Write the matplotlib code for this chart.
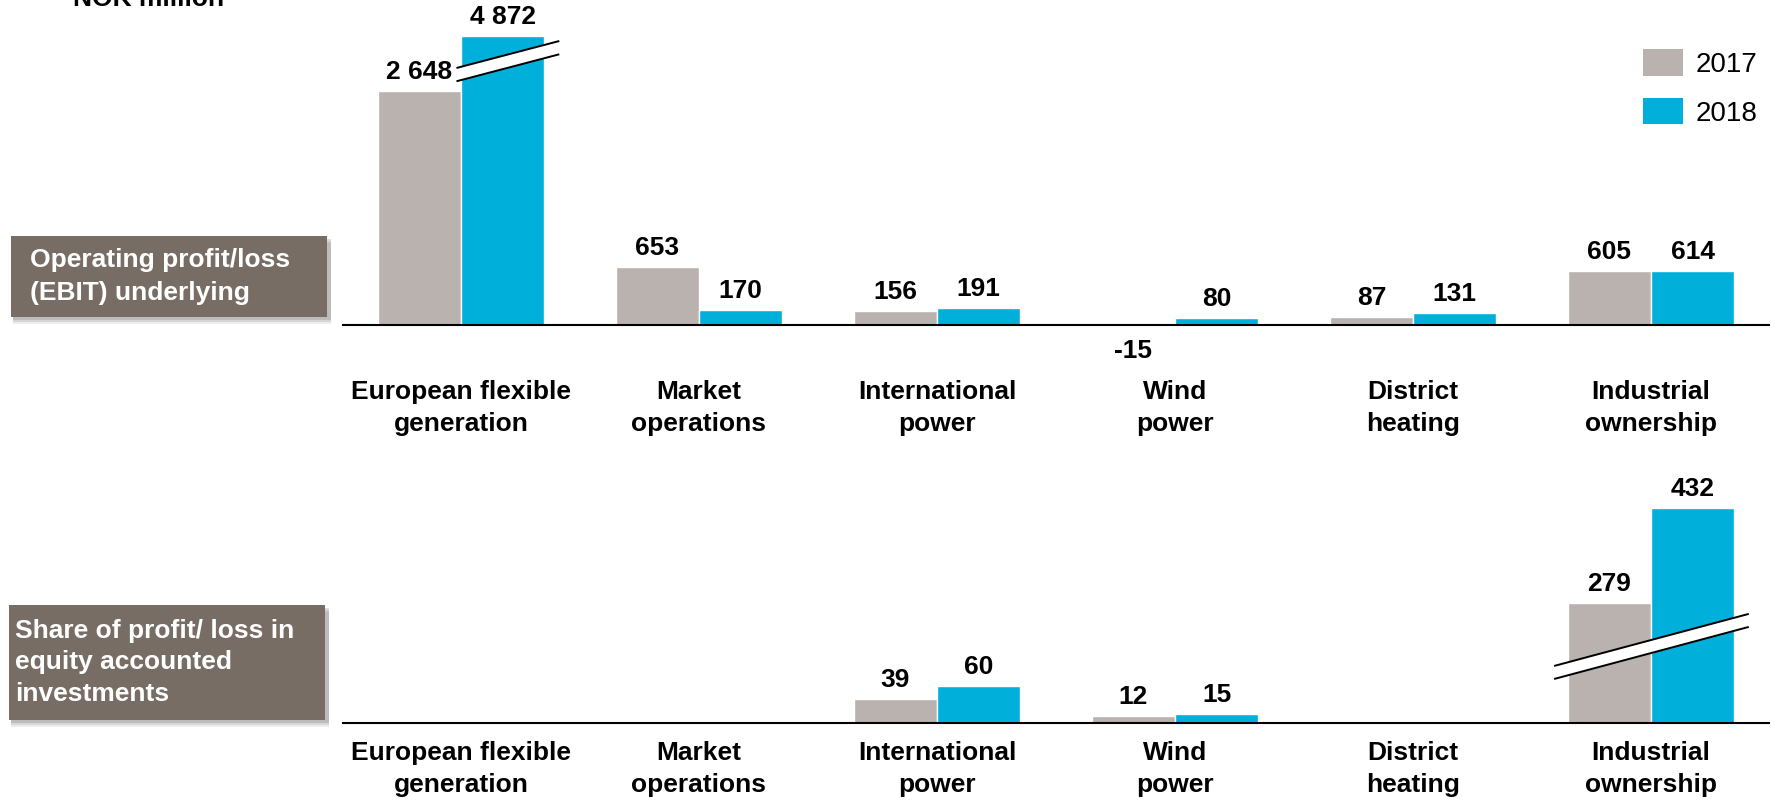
import numpy as np
import matplotlib.pyplot as plt
from matplotlib.patches import Patch, Rectangle, Polygon

plt.rcParams['font.family'] = ['Liberation Sans', 'DejaVu Sans']

# data (NOK million)
segments = ['European flexible\ngeneration', 'Market\noperations', 'International\npower',
            'Wind\npower', 'District\nheating', 'Industrial\nownership']
years = ['2017', '2018']
ebit_2017 = [2648, 653, 156, -15, 87, 605]
ebit_2018 = [4872, 170, 191, 80, 131, 614]
equity_2017 = [np.nan, np.nan, 39, 12, np.nan, 279]
equity_2018 = [np.nan, np.nan, 60, 15, np.nan, 432]

c17 = '#BAB2AE'
c18 = '#00B0DA'
box_col = '#776D64'

W, H = 1779, 801
fig = plt.figure(figsize=(W / 100, H / 100), dpi=100)


def add_axes_px(top_px, bottom_px, left_px=342, right_px=1770):
    return fig.add_axes([left_px / W, 1 - bottom_px / H,
                         (right_px - left_px) / W, (bottom_px - top_px) / H])


def fmt(v):
    return f'{int(v):,}'.replace(',', ' ')


def draw_break(ax, x0, x1, y0, y1, gap):
    poly = Polygon([(x0, y0), (x1, y1), (x1, y1 - gap), (x0, y0 - gap)],
                   closed=True, facecolor='white', edgecolor='none', zorder=5)
    ax.add_patch(poly)
    ax.plot([x0, x1], [y0, y1], color='black', lw=1.4, zorder=6, solid_capstyle='butt')
    ax.plot([x0, x1], [y0 - gap, y1 - gap], color='black', lw=1.4, zorder=6,
            solid_capstyle='butt')


def bar_panel(ax, v17, v18, disp17, disp18, label_off):
    x = np.arange(len(segments))
    w, off = 0.35, 0.175
    ax.bar(x - off, disp17, w, color=c17, edgecolor='white', lw=1, zorder=2)
    ax.bar(x + off, disp18, w, color=c18, edgecolor='white', lw=1, zorder=2)
    for xs, vals, disp in [(x - off, v17, disp17), (x + off, v18, disp18)]:
        for xi, v, d in zip(xs, vals, disp):
            if np.isnan(v):
                continue
            dy = 12 if v >= 0 else -32
            ax.annotate(fmt(v), (xi, d), xytext=(0, dy), textcoords='offset pixels',
                        ha='center', va='baseline', fontsize=19, fontweight='bold',
                        zorder=7, annotation_clip=False)
    ax.axhline(0, color='black', lw=1.5, zorder=3)
    for xi, name in zip(x, segments):
        ax.annotate(name, (xi, 0), xytext=(0, label_off), textcoords='offset pixels',
                    ha='center', va='center', fontsize=19, fontweight='bold',
                    linespacing=1.4, annotation_clip=False)
    ax.set_xlim(-0.5, len(segments) - 0.5)
    ax.axis('off')


# top panel: EBIT, baseline at y=325 px
s_top = 0.0885
ax1 = add_axes_px(20, 370)
ax1.set_ylim(-(370 - 325) / s_top, (325 - 20) / s_top)
cap = 3266
d17 = np.minimum(np.array(ebit_2017, float), cap)
d18 = np.minimum(np.array(ebit_2018, float), cap)
bar_panel(ax1, np.array(ebit_2017, float), np.array(ebit_2018, float), d17, d18, -83)
draw_break(ax1, -0.019, 0.413, 2904, 3209, 150)

# bottom panel: equity accounted, baseline at y=723 px
s_bot = 0.62
ax2 = add_axes_px(440, 730)
ax2.set_ylim(-(730 - 723) / s_bot, (723 - 440) / s_bot)
cut = np.array([0, 0, 0, 0, 0, 86])
e17 = np.array(equity_2017, float)
e18 = np.array(equity_2018, float)
bar_panel(ax2, e17, e18, np.nan_to_num(e17) - cut, np.nan_to_num(e18) - cut, -46)
draw_break(ax2, 4.593, 5.411, 92, 176, 21)


# grey label boxes with soft shadow
def label_box(x0, y0, x1, y1, text, tx, pitch):
    for k, a in zip([7, 5, 3], [0.10, 0.15, 0.2]):
        fig.add_artist(Rectangle(((x0 + 2) / W, 1 - (y1 + k) / H), (x1 - x0 + 2) / W,
                                 (y1 - y0) / H, transform=fig.transFigure,
                                 facecolor='#555555', alpha=a, edgecolor='none'))
    fig.add_artist(Rectangle((x0 / W, 1 - y1 / H), (x1 - x0) / W, (y1 - y0) / H,
                             transform=fig.transFigure, facecolor=box_col,
                             edgecolor='none'))
    fig.text(tx / W, 1 - (y0 + y1) / 2 / H, text, ha='left', va='center',
             color='white', fontsize=19, fontweight='bold', linespacing=pitch)


label_box(11, 236, 327, 317, 'Operating profit/loss\n(EBIT) underlying', 30, 1.45)
label_box(9, 605, 325, 720, 'Share of profit/ loss in\nequity accounted\ninvestments', 15, 1.4)

fig.text(73 / W, 1 - 6 / H, 'NOK million', ha='left', va='baseline',
         fontsize=19, fontweight='bold')

handles = [Patch(facecolor=c17, edgecolor='none'), Patch(facecolor=c18, edgecolor='none')]
fig.legend(handles, years, loc='upper left', bbox_to_anchor=(1643 / W, 1 - 49 / H),
           frameon=False, fontsize=20, handlelength=1.44, handleheight=1.1,
           handletextpad=0.45, labelspacing=0.72, borderpad=0, borderaxespad=0)

fig.savefig('out.png', dpi=100)
